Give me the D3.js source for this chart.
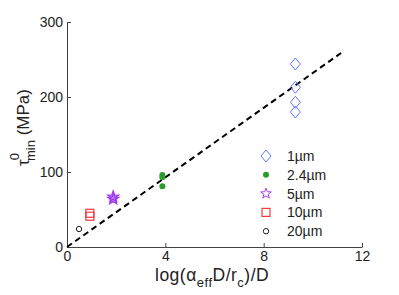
<!DOCTYPE html>
<html>
<head>
<meta charset="utf-8">
<script src="https://cdn.jsdelivr.net/npm/d3@7"></script>
<style>
  body { margin: 0; background: #fff; }
  svg { font-family: "Liberation Sans", Arial, sans-serif; }
</style>
</head>
<body>
<svg id="chart" width="399" height="295"></svg>
<script>
// data
const sizes = ["1\u00b5m", "2.4\u00b5m", "5\u00b5m", "10\u00b5m", "20\u00b5m"];
const xVals = [9.29, 3.88, 1.88, 0.93, 0.49];
const yVals = [
    [244, 213, 193, 180],
    [96, 93, 81],
    [67, 64],
    [45, 41],
    [24]
];
const markers = ["diamond", "dot", "star", "square", "circle"];
const colors = ["#5b76ff", "#2a9d2a", "#a23cf0", "#f23a3a", "#222222"];
const fitSlope = 23.2;
const fitX = [0, 11.15];
const xTicks = [0, 4, 8, 12];
const yTicks = [0, 100, 200, 300];

const margin = { top: 22, right: 37, bottom: 48, left: 67 };
const width = 399 - margin.left - margin.right;
const height = 295 - margin.top - margin.bottom;

const svg = d3.select("#chart")
    .append("g")
    .attr("transform", `translate(${margin.left},${margin.top})`);

const x = d3.scaleLinear().domain([0, 12]).range([0, width]);
const y = d3.scaleLinear().domain([0, 300]).range([height, 0]);

// axes, ticks pointing inward
const xAxis = svg.append("g")
    .attr("transform", `translate(0,${height})`)
    .call(d3.axisBottom(x).tickValues(xTicks).tickSizeInner(-4).tickSizeOuter(0).tickPadding(4));
const yAxis = svg.append("g")
    .call(d3.axisLeft(y).tickValues(yTicks).tickSizeInner(-4).tickSizeOuter(0).tickPadding(4));

[xAxis, yAxis].forEach(a => {
    a.selectAll("text").style("font-size", "14px").attr("fill", "#222")
        .style("font-family", "'Liberation Sans', Arial, sans-serif");
    a.selectAll("line").attr("stroke", "#444");
    a.select(".domain").attr("stroke", "#444");
});

// dashed fit line
svg.append("path")
    .datum(fitX)
    .attr("fill", "none")
    .attr("stroke", "#000")
    .attr("stroke-width", 2)
    .attr("stroke-dasharray", "6,4")
    .attr("d", d3.line().x(d => x(d)).y(d => y(d * fitSlope)));

function starPath(ro, ri) {
    const pts = d3.range(10).map(k => {
        const a = -Math.PI / 2 + k * Math.PI / 5;
        const r = k % 2 ? ri : ro;
        return [r * Math.cos(a), r * Math.sin(a)];
    });
    return "M" + pts.join("L") + "Z";
}

function drawMarker(g, kind, color, legendRow) {
    if (kind === "diamond") {
        g.append("path").attr("d", "M0,-6L5,0L0,6L-5,0Z")
            .attr("fill", "none").attr("stroke", color).attr("stroke-width", 1);
    } else if (kind === "dot") {
        g.append("circle").attr("r", 3).attr("fill", color);
    } else if (kind === "star") {
        g.append("path").attr("d", starPath(5.5, 2.3))
            .attr("fill", legendRow ? "none" : "rgba(162,60,240,0.35)")
            .attr("stroke", color).attr("stroke-width", legendRow ? 1 : 1.5);
    } else if (kind === "square") {
        g.append("rect").attr("x", -4).attr("y", -4).attr("width", 8).attr("height", 8)
            .attr("fill", "none").attr("stroke", color).attr("stroke-width", 1.2);
    } else {
        g.append("circle").attr("r", 2.7)
            .attr("fill", "none").attr("stroke", color).attr("stroke-width", 1);
    }
}

// points
sizes.forEach((s, i) => {
    yVals[i].forEach(v => {
        const g = svg.append("g").attr("transform", `translate(${x(xVals[i])},${y(v)})`);
        drawMarker(g, markers[i], colors[i], false);
    });
});

// legend
const legend = svg.append("g").attr("transform", `translate(${266 - margin.left},${156 - margin.top})`);
sizes.forEach((s, i) => {
    const row = legend.append("g").attr("transform", `translate(0,${i * 18.8})`);
    drawMarker(row, markers[i], colors[i], true);
    row.append("text")
        .attr("x", 21)
        .attr("dy", "0.35em")
        .style("font-size", "14px")
        .attr("fill", "#222")
        .text(s);
});

// x label
const xl = d3.select("#chart").append("text")
    .attr("x", 155)
    .attr("y", 281)
    .style("font-size", "17.5px")
    .style("letter-spacing", "0.5px")
    .attr("fill", "#222");
xl.append("tspan").text("log(\u03b1");
xl.append("tspan").attr("dy", 6).style("font-size", "13px").text("eff");
xl.append("tspan").attr("dy", -6).text("D/r");
xl.append("tspan").attr("dy", 6).style("font-size", "13px").text("c");
xl.append("tspan").attr("dy", -6).text(")/D");

// y label
const yl = d3.select("#chart").append("text")
    .attr("transform", "translate(29,166) rotate(-90)")
    .style("font-size", "17px")
    .attr("fill", "#222");
yl.append("tspan").text("\u03c4");
yl.append("tspan").attr("dy", -10).attr("dx", -1).style("font-size", "13px").text("0");
yl.append("tspan").attr("dy", 16).attr("dx", -8).style("font-size", "13px").text("min");
yl.append("tspan").attr("dy", -6).text(" (MPa)");
</script>
</body>
</html>
